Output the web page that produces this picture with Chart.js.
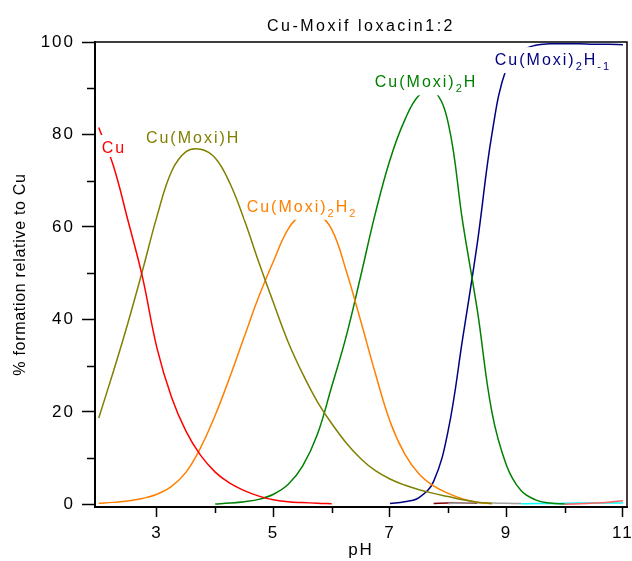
<!DOCTYPE html>
<html>
<head>
<meta charset="utf-8">
<script src="https://cdn.jsdelivr.net/npm/chart.js@4.4.1/dist/chart.umd.min.js"></script>
<style>
  html, body { margin: 0; padding: 0; background: #fff; }
  #wrap { width: 632px; height: 561px; }
</style>
</head>
<body>
<div id="wrap"><canvas id="chart" width="632" height="561"></canvas></div>
<script>
/* ============================================
   Cu-Moxifloxacin 1:2 — species distribution vs pH
   ============================================ */

// pH grid shared by every species curve
const phGrid = [2.0, 2.25, 2.5, 2.75, 3.0, 3.25, 3.5, 3.75, 4.0, 4.25, 4.5, 4.75, 5.0, 5.25, 5.5, 5.75, 6.0, 6.25, 6.5,
  6.75, 7.0, 7.25, 7.5, 7.75, 8.0, 8.25, 8.5, 8.75, 9.0, 9.25, 9.5, 9.75, 10.0, 10.25, 10.5, 10.75, 11.0];

// % formation relative to Cu (null = species not plotted there)
const cuFree = [81.5, 73.3, 61.5, 49.2, 33.8, 23.2, 15.8, 10.6, 7.0, 4.6, 3.0, 1.8, 1.0, 0.6, 0.4, 0.25, 0.15, null, null,
  null, null, null, null, null, null, null, null, null, null, null, null, null, null, null, null, null, null];
const cuMoxiH = [18.7, 28.7, 39.2, 50.5, 62.3, 72.0, 76.3, 76.8, 74.9, 69.5, 61.5, 52.3, 43.6, 35.2, 28.3, 22.3, 17.5, 13.3, 9.9,
  7.3, 5.5, 4.2, 3.2, 2.4, 1.7, 1.0, 0.5, 0.2, null, null, null, null, null, null, null, null, null];
const cuMoxi2H2 = [0.25, 0.45, 0.75, 1.3, 2.2, 3.9, 7.0, 12.3, 19.3, 27.5, 36.3, 45.0, 52.6, 59.5, 62.8, 62.8, 59.5, 50.5, 39.6,
  28.3, 18.0, 11.0, 6.6, 4.0, 2.4, 1.2, 0.5, 0.15, null, null, null, null, null, null, null, null, null];
const cuMoxi2H = [null, null, null, null, null, null, null, null, 0.1, 0.3, 0.6, 1.1, 2.2, 4.3, 8.3, 15.0, 25.5, 36.4, 49.5,
  63.0, 74.5, 83.0, 88.5, 89.5, 82.5, 61.0, 42.0, 20.0, 8.5, 3.0, 1.0, 0.3, 0.1, null, null, null, null];
const cuMoxi2Hm1 = [null, null, null, null, null, null, null, null, null, null, null, null, null, null, null, null, null, null, null,
  null, 0.2, 0.6, 1.5, 5.0, 16.0, 36.0, 56.5, 80.0, 94.3, 98.0, 99.3, 99.6, 99.6, 99.6, 99.5, 99.5, 99.4];
// minor species hugging the baseline
const minorDarkRed = [null, null, null, null, null, null, null, null, null, null, null, null, null, null, null, null, null, null, null,
  null, null, null, null, 0.2, 0.3, 0.3, 0.25, null, null, null, null, null, null, null, null, null, null];
const minorGrey = [null, null, null, null, null, null, null, null, null, null, null, null, null, null, null, null, null, null, null,
  null, null, null, null, null, 0.2, 0.3, 0.35, 0.3, 0.25, 0.2, null, null, null, null, null, null, null];
const minorCyan = [null, null, null, null, null, null, null, null, null, null, null, null, null, null, null, null, null, null, null,
  null, null, null, null, null, null, null, null, null, null, 0.15, 0.2, 0.2, 0.25, 0.3, 0.3, 0.3, 0.3];
const minorPink = [null, null, null, null, null, null, null, null, null, null, null, null, null, null, null, null, null, null, null,
  null, null, null, null, null, null, null, null, null, null, null, null, null, 0.05, 0.15, 0.3, 0.5, 0.8];

// axis ticks
const xMajorTicks = [3, 5, 7, 9, 11];
const xMinorTicks = [4, 6, 8, 10];
const yMajorTicks = [0, 20, 40, 60, 80, 100];
const yMinorTicks = [10, 30, 50, 70, 90];

const FONT = '"Liberation Sans", Arial, sans-serif';

const toPoints = (vals) => phGrid.map((x, i) => ({ x, y: vals[i] })).filter(p => p.y !== null);

const line = (vals, color) => ({
  data: toPoints(vals),
  borderColor: color,
  borderWidth: 1.5,
  pointRadius: 0,
  fill: false,
  tension: 0.4
});

// --- Species labels drawn on the curves (white box cuts the line) ---
const speciesLabels = [
  { parts: [['Cu', 0]], color: '#ff0000', ph: 2.05, pct: 76.0 },
  { parts: [['Cu(Moxi)H', 0]], color: '#808000', ph: 2.81, pct: 78.1 },
  { parts: [['Cu(Moxi)', 0], ['2', 1], ['H', 0], ['2', 1]], color: '#ff8000', ph: 4.54, pct: 63.3 },
  { parts: [['Cu(Moxi)', 0], ['2', 1], ['H', 0]], color: '#008000', ph: 6.74, pct: 90.2 },
  { parts: [['Cu(Moxi)', 0], ['2', 1], ['H', 0], ['-1', 1]], color: '#000080', ph: 8.80, pct: 95.0 }
];

const decorPlugin = {
  id: 'decor',
  beforeDraw(chart) {
    chart.ctx.letterSpacing = '2px';
  },
  afterDraw(chart) {
    const { ctx, chartArea: a, scales: { x, y } } = chart;
    ctx.save();

    // top / right frame
    ctx.strokeStyle = '#000';
    ctx.lineWidth = 1.5;
    ctx.beginPath();
    ctx.moveTo(a.left, a.top);
    ctx.lineTo(a.right, a.top);
    ctx.lineTo(a.right, a.bottom);
    ctx.stroke();

    // minor ticks
    ctx.beginPath();
    xMinorTicks.forEach(v => {
      const px = Math.round(x.getPixelForValue(v)) + 0.5;
      ctx.moveTo(px, a.bottom);
      ctx.lineTo(px, a.bottom + 6);
    });
    yMinorTicks.forEach(v => {
      const py = Math.round(y.getPixelForValue(v)) + 0.5;
      ctx.moveTo(a.left - 8, py);
      ctx.lineTo(a.left, py);
    });
    ctx.stroke();

    // species labels
    ctx.textBaseline = 'alphabetic';
    ctx.textAlign = 'left';
    ctx.letterSpacing = '2px';
    speciesLabels.forEach(lab => {
      const x0 = x.getPixelForValue(lab.ph);
      const yb = y.getPixelForValue(lab.pct);
      let w = 0;
      lab.parts.forEach(([t, sub]) => {
        ctx.font = (sub ? '11px ' : '16px ') + FONT;
        w += ctx.measureText(t).width;
      });
      const hasSub = lab.parts.some(p => p[1]);
      ctx.fillStyle = '#fff';
      ctx.fillRect(x0 - 2, yb - 18, w + 2, hasSub ? 26 : 22);
      ctx.fillStyle = lab.color;
      let cx = x0;
      lab.parts.forEach(([t, sub]) => {
        ctx.font = (sub ? '11px ' : '16px ') + FONT;
        ctx.fillText(t, cx, sub ? yb + 5 : yb);
        cx += ctx.measureText(t).width;
      });
    });

    // chart title
    ctx.fillStyle = '#000';
    ctx.font = '16px ' + FONT;
    ctx.letterSpacing = '2.5px';
    ctx.textAlign = 'center';
    ctx.fillText('Cu-Moxif loxacin1:2', (a.left + a.right) / 2, 31);

    // y axis title
    ctx.letterSpacing = '0.7px';
    ctx.translate(21, (a.top + a.bottom) / 2);
    ctx.rotate(-Math.PI / 2);
    ctx.textBaseline = 'middle';
    ctx.fillText('% formation relative to Cu', 0, 0);

    ctx.restore();
  }
};

new Chart(document.getElementById('chart'), {
  type: 'line',
  data: {
    datasets: [
      line(cuFree, '#ff0000'),
      line(cuMoxiH, '#808000'),
      line(cuMoxi2H2, '#ff8000'),
      line(cuMoxi2H, '#008000'),
      line(cuMoxi2Hm1, '#000080'),
      line(minorPink, '#ff6060'),
      line(minorCyan, '#00ffff'),
      line(minorGrey, '#a0a0a0'),
      line(minorDarkRed, '#800000')
    ]
  },
  options: {
    responsive: false,
    animation: false,
    devicePixelRatio: 1,
    layout: { padding: { top: 42, right: 5, left: 0, bottom: 0 } },
    plugins: { legend: { display: false }, tooltip: { enabled: false } },
    scales: {
      x: {
        type: 'linear',
        min: 1.936,
        max: 11.07,
        afterBuildTicks: s => { s.ticks = xMajorTicks.map(v => ({ value: v })); },
        afterFit: s => { s.height = 54; s.paddingLeft = 0; s.paddingRight = 0; },
        grid: { drawOnChartArea: false, tickLength: 10, tickColor: '#000', tickWidth: 1.5 },
        border: { display: true, color: '#000', width: 2 },
        ticks: { color: '#000', font: { family: FONT, size: 17 }, padding: 6, maxRotation: 0, autoSkip: false },
        title: { display: true, text: 'pH', color: '#000', font: { family: FONT, size: 17 }, padding: 0 }
      },
      y: {
        type: 'linear',
        min: -0.55,
        max: 100,
        afterBuildTicks: s => { s.ticks = yMajorTicks.map(v => ({ value: v })); },
        afterFit: s => { s.width = 95; s.paddingTop = 0; s.paddingBottom = 0; },
        grid: { drawOnChartArea: false, tickLength: 13, tickColor: '#000', tickWidth: 1.5 },
        border: { display: true, color: '#000', width: 2 },
        ticks: { color: '#000', font: { family: FONT, size: 17 }, padding: 7, autoSkip: false }
      }
    }
  },
  plugins: [decorPlugin]
});
</script>
</body>
</html>
